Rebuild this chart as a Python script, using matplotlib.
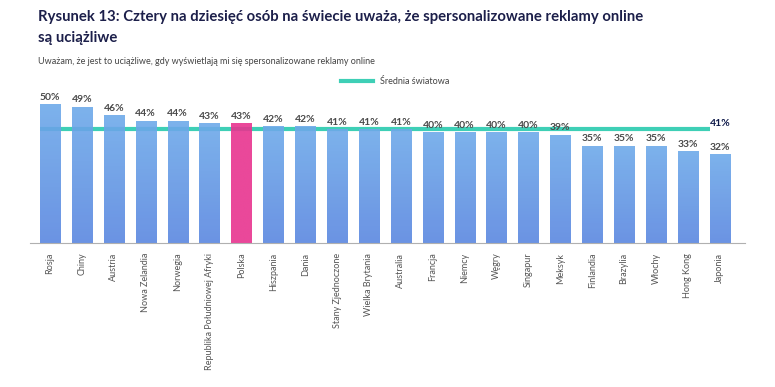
import matplotlib
matplotlib.use("Agg")
import matplotlib.pyplot as plt
import numpy as np
from matplotlib.lines import Line2D
from matplotlib.colors import LinearSegmentedColormap

countries = ["Rosja", "Chiny", "Austria", "Nowa Zelandia", "Norwegia",
             "Republika Południowej Afryki", "Polska", "Hiszpania", "Dania",
             "Stany Zjednoczone", "Wielka Brytania", "Australia", "Francja",
             "Niemcy", "Węgry", "Singapur", "Meksyk", "Finlandia", "Brazylia",
             "Włochy", "Hong Kong", "Japonia"]
values = [50, 49, 46, 44, 44, 43, 43, 42, 42, 41, 41, 41, 40, 40, 40, 40, 39,
          35, 35, 35, 33, 32]
world_avg = 41
highlight = "Polska"

plt.rcParams['font.family'] = ['Lato', 'DejaVu Sans']

W, H = 775, 387
fig = plt.figure(figsize=(W / 100, H / 100), dpi=100)

ax_left, ax_right, ax_bottom, ax_top = 30, 745, 243, 90
ax = fig.add_axes([ax_left / W, 1 - ax_bottom / H,
                   (ax_right - ax_left) / W, (ax_bottom - ax_top) / H])

ax.set_xlim(-0.627, 21.79)
ax.set_ylim(0, 55)

x = list(range(len(countries)))

# average line (behind semi-transparent bars)
ax.plot([-0.32, len(x) - 1.32], [world_avg, world_avg], color="#3ecfb6", lw=3,
        zorder=1, solid_capstyle="butt")

blue_cmap = LinearSegmentedColormap.from_list("b", ["#5a87e0", "#6eaaea"])
pink_cmap = LinearSegmentedColormap.from_list("p", ["#e8338f", "#e8338f"])
bars = ax.bar(x, values, width=0.63, color="none", zorder=2)
grad = np.linspace(0, 1, 256).reshape(-1, 1)
for b, c in zip(bars, countries):
    x0, w, h = b.get_x(), b.get_width(), b.get_height()
    im = ax.imshow(grad, cmap=pink_cmap if c == highlight else blue_cmap,
                   extent=[x0, x0 + w, 0, h], origin="lower", aspect="auto",
                   alpha=0.9, zorder=2)
    im.set_clip_path(b)

ax.text(len(x) - 1, world_avg + 0.3, f"{world_avg}%", ha="center", va="bottom",
        fontsize=7.5, fontweight="bold", color="#0f1a4a", zorder=4)

for xi, v in zip(x, values):
    ax.text(xi, v + 0.8, f"{v}%", ha="center", va="bottom", fontsize=7.5,
            fontweight="bold", color="#4a4a4a", zorder=4)

for s in ["top", "right", "left"]:
    ax.spines[s].set_visible(False)
ax.spines["bottom"].set_color("#b0b0b0")
ax.spines["bottom"].set_linewidth(0.8)
ax.set_yticks([])
ax.set_xticks(x)
ax.set_xticklabels(countries, rotation=90, fontsize=6.5, color="#555555")
ax.tick_params(axis="x", length=0, pad=7)

fig.text(38 / W, 1 - 17 / H,
         "Rysunek 13: Cztery na dziesięć osób na świecie uważa, że spersonalizowane reklamy online",
         fontsize=10.7, fontweight="bold", color="#1c1f4a", va="center", ha="left")
fig.text(38 / W, 1 - 38 / H, "są uciążliwe",
         fontsize=10.7, fontweight="bold", color="#1c1f4a", va="center", ha="left")
fig.text(38 / W, 1 - 62 / H,
         "Uważam, że jest to uciążliwe, gdy wyświetlają mi się spersonalizowane reklamy online",
         fontsize=6.5, color="#444444", va="center", ha="left")

# legend
fig.add_artist(Line2D([341 / W, 373 / W], [1 - 81 / H, 1 - 81 / H],
                      color="#3ecfb6", lw=3))
fig.text(380 / W, 1 - 81 / H, "Średnia światowa", fontsize=6.5,
         color="#444444", va="center", ha="left")

fig.savefig("out.png", dpi=100)
